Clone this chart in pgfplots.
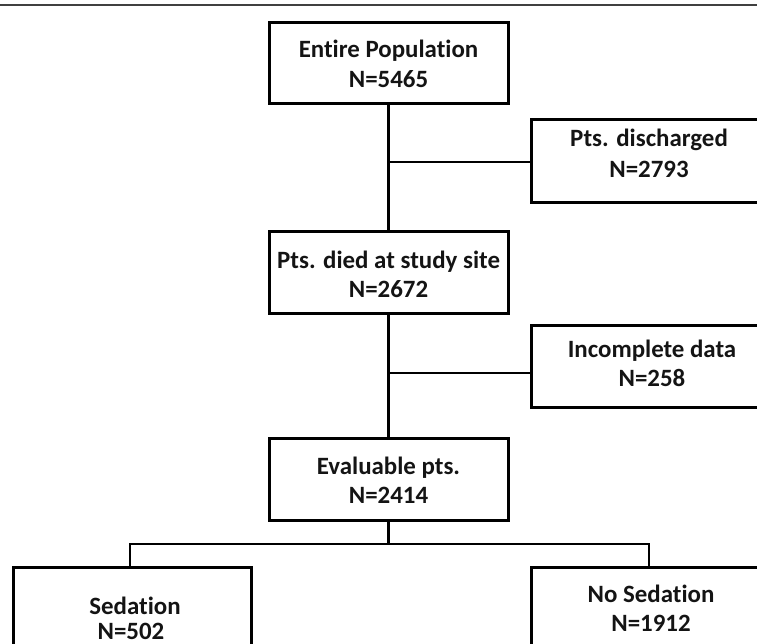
\documentclass[border=0pt]{standalone}
\usepackage{pgfplots}
\pgfplotsset{compat=1.18}
\usepackage{fontspec}
\setmainfont{Carlito}[Ligatures=NoCommon]
\definecolor{txt}{HTML}{141414}
\begin{document}
\begin{tikzpicture}
\begin{axis}[width=757bp,height=644bp,scale only axis,hide axis,
  xmin=0,xmax=757,ymin=0,ymax=644,y dir=reverse,clip=true,
  every axis plot/.append style={mark=none,line join=miter},
  nodes={font=\fontsize{25}{29}\selectfont\bfseries,text=txt,anchor=base,inner sep=0pt}]
% top rule
\addplot[draw=black!75,line width=1.8bp] coordinates {(0,5) (757,5)};
% connectors
\addplot[black,line width=2.3bp] coordinates {(388.5,104) (388.5,231)};
\addplot[black,line width=2.3bp] coordinates {(388.5,313) (388.5,438)};
\addplot[black,line width=2.3bp] coordinates {(388.5,520) (388.5,544)};
\addplot[black,line width=2.3bp] coordinates {(388.5,162) (531,162)};
\addplot[black,line width=2.3bp] coordinates {(388.5,373) (531,373)};
\addplot[black,line width=2.3bp] coordinates {(130,567) (130,544) (649,544) (649,567)};
% boxes
\addplot[black,line width=3bp] coordinates {(269,23) (508,23) (508,104) (269,104)} --cycle;
\addplot[black,line width=3bp] coordinates {(531,120) (800,120) (800,202) (531,202)} --cycle;
\addplot[black,line width=3bp] coordinates {(269,231) (508,231) (508,313) (269,313)} --cycle;
\addplot[black,line width=3bp] coordinates {(531,325) (800,325) (800,407) (531,407)} --cycle;
\addplot[black,line width=3bp] coordinates {(269,438) (508,438) (508,520) (269,520)} --cycle;
\addplot[black,line width=3bp] coordinates {(13,567) (251,567) (251,720) (13,720)} --cycle;
\addplot[black,line width=3bp] coordinates {(531,567) (800,567) (800,720) (531,720)} --cycle;
% texts
\node at (axis cs:388.5,58) {Entire Population};
\node at (axis cs:388.5,88) {N=5465};
\node at (axis cs:649,146) {Pts. discharged};
\node at (axis cs:649,177) {N=2793};
\node at (axis cs:388.5,268) {Pts. died at study site};
\node at (axis cs:388.5,297) {N=2672};
\node at (axis cs:652,357) {Incomplete data};
\node at (axis cs:652,386) {N=258};
\node at (axis cs:388.5,474) {Evaluable pts.};
\node at (axis cs:388.5,503) {N=2414};
\node at (axis cs:135,614) {Sedation};
\node at (axis cs:131,639) {N=502};
\node at (axis cs:651,602) {No Sedation};
\node at (axis cs:651,631) {N=1912};
\end{axis}
\pgfresetboundingbox
\useasboundingbox (0,0) rectangle (757bp,644bp);
\end{tikzpicture}
\end{document}
